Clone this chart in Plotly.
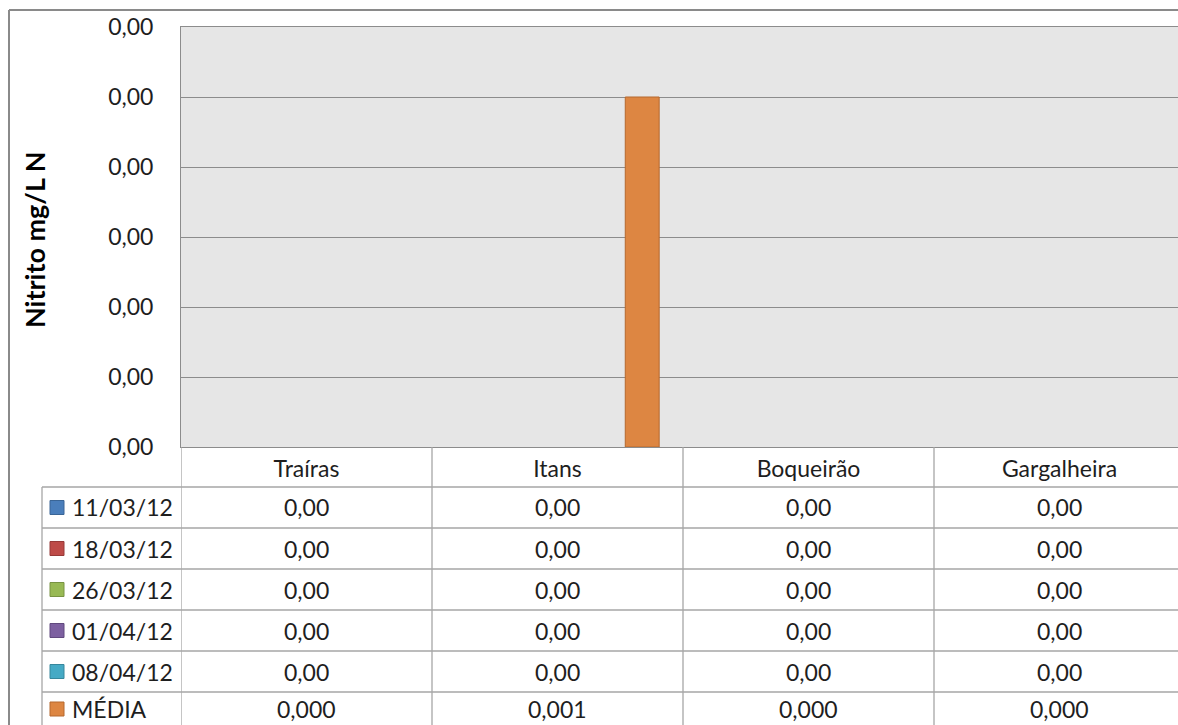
import plotly.graph_objects as go

# ---- data ----
categories = ["Traíras", "Itans", "Boqueirão", "Gargalheira"]
series_names = ["11/03/12", "18/03/12", "26/03/12", "01/04/12", "08/04/12", "MÉDIA"]
s_110312 = [0.0, 0.0, 0.0, 0.0]
s_180312 = [0.0, 0.0, 0.0, 0.0]
s_260312 = [0.0, 0.0, 0.0, 0.0]
s_010412 = [0.0, 0.0, 0.0, 0.0]
s_080412 = [0.0, 0.0, 0.0, 0.0]
s_media = [0.000, 0.001, 0.000, 0.000]
series_values = [s_110312, s_180312, s_260312, s_010412, s_080412, s_media]
series_decimals = [2, 2, 2, 2, 2, 3]
y_tickvals = [0, 0.0002, 0.0004, 0.0006, 0.0008, 0.0010, 0.0012]
y_ticktext = ["0,00", "0,00", "0,00", "0,00", "0,00", "0,00", "0,00"]
y_title = "Nitrito mg/L N"

# ---- style ----
W, H = 1178, 725
colors = ["#4A7EBB", "#BE4B48", "#98B954", "#7D60A0", "#46AAC5", "#DD8642"]
edge_colors = ["#3A6596", "#973A38", "#789343", "#61497E", "#37879C", "#B5682E"]
FONT = "Lato, 'Open Sans', sans-serif"
FS = 23
TXT = "#1E1E1E"
GRID = "#8C8C8C"
TLINE = "#A6A6A6"

def px(x):
    return x / W

def py(y):
    return 1 - y / H

plot_left, plot_top, plot_bottom = 181, 27, 447
cat_w = 251
n_visible = (W - plot_left) / cat_w

fig = go.Figure()
for name, vals, col, ecol in zip(series_names, series_values, colors, edge_colors):
    fig.add_trace(go.Bar(
        x=categories, y=vals, name=name,
        marker=dict(color=col, line=dict(color=ecol, width=[1 if v else 0 for v in vals])),
        showlegend=False,
    ))

fig.update_layout(
    width=W, height=H,
    margin=dict(l=0, r=0, t=0, b=0),
    paper_bgcolor="white",
    plot_bgcolor="#E6E6E6",
    barmode="group", bargap=0.19, bargroupgap=0,
    font=dict(family=FONT, size=FS, color=TXT),
    xaxis=dict(
        domain=[px(plot_left), 1],
        range=[-0.5, -0.5 + n_visible],
        tickmode="array", tickvals=list(range(len(categories))), ticktext=categories,
        showgrid=False, showline=True, linecolor=GRID, linewidth=1, mirror=True,
        ticks="", ticklabelstandoff=1, automargin=False,
        tickfont=dict(family=FONT, size=FS, color=TXT),
    ),
    yaxis=dict(
        domain=[py(plot_bottom), py(plot_top)],
        range=[0, 0.0012],
        tickmode="array", tickvals=y_tickvals, ticktext=y_ticktext,
        showgrid=True, gridcolor=GRID, gridwidth=1,
        showline=True, linecolor=GRID, linewidth=1, mirror=False,
        ticks="", ticklabelstandoff=22, automargin=False, zeroline=False,
        tickfont=dict(family=FONT, size=FS, color=TXT),
    ),
)

# y-axis title
fig.add_annotation(
    text="<b>" + y_title + "</b>", textangle=-90,
    xref="paper", yref="paper", x=px(34), y=py(240),
    xanchor="center", yanchor="middle",
    showarrow=False, font=dict(family=FONT, size=27, color="#000000"),
)

# ---- data table ----
header_bottom = 487
row_h = 41
table_left = 42

# outer chart border
fig.add_shape(type="line", xref="paper", yref="paper", x0=px(9), x1=px(9), y0=py(10), y1=0,
              line=dict(color="#8A8A8A", width=2))
fig.add_shape(type="line", xref="paper", yref="paper", x0=px(9), x1=1, y0=py(10), y1=py(10),
              line=dict(color="#8A8A8A", width=2))

# vertical separators at category boundaries (the last one lies beyond the visible area)
for b in [i - 0.5 for i in range(len(categories))]:
    fig.add_shape(type="line", xref="x", yref="paper", x0=b, x1=b,
                  y0=py(plot_bottom), y1=0, line=dict(color=TLINE, width=1.3))
# table left edge
fig.add_shape(type="line", xref="paper", yref="paper", x0=px(table_left), x1=px(table_left),
              y0=py(header_bottom), y1=0, line=dict(color=TLINE, width=1.3))
# horizontal lines
for r in range(len(series_names)):
    yy = header_bottom + r * row_h
    fig.add_shape(type="line", xref="paper", yref="paper", x0=px(table_left), x1=1,
                  y0=py(yy), y1=py(yy), line=dict(color=TLINE, width=1.3))

for r, (name, vals, dec, col, ecol) in enumerate(zip(series_names, series_values, series_decimals, colors, edge_colors)):
    yc = min(header_bottom + r * row_h + row_h / 2, H - 16)
    # legend key
    fig.add_shape(type="rect", xref="paper", yref="paper",
                  x0=px(50), x1=px(64), y0=py(yc - 7), y1=py(yc + 7),
                  fillcolor=col, line=dict(color=ecol, width=1))
    fig.add_annotation(text=name, xref="paper", yref="paper", x=px(70), y=py(yc),
                       xanchor="left", yanchor="middle", showarrow=False,
                       font=dict(family=FONT, size=FS, color=TXT))
    for ci, v in enumerate(vals):
        fig.add_annotation(text=f"{v:.{dec}f}".replace(".", ","), xref="x", yref="paper",
                           x=ci, y=py(yc), xanchor="center", yanchor="middle", showarrow=False,
                           font=dict(family=FONT, size=FS, color=TXT))

fig.write_html("out.html", config={"displayModeBar": False},
               post_script="document.body.style.margin='0';document.body.style.overflow='hidden';")
